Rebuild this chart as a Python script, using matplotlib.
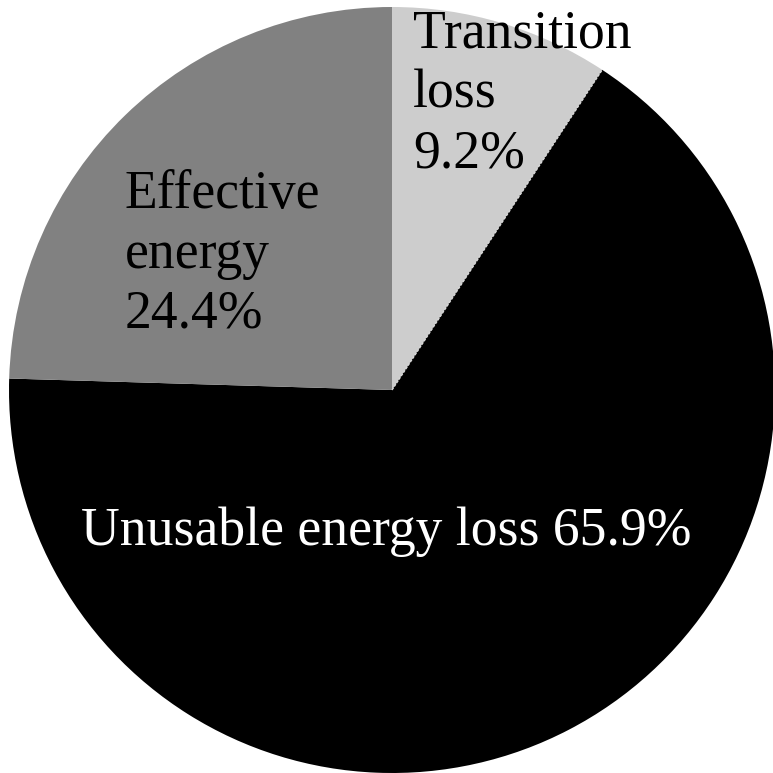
import matplotlib
matplotlib.use("Agg")
import matplotlib.pyplot as plt
import numpy as np

labels = ["Transition\nloss\n9.2%", "Unusable energy loss 65.9%", "Effective\nenergy\n24.4%"]
values = [9.2, 65.9, 24.4]
colors = ["#cdcdcd", "#000000", "#818181"]

W = 773
fig = plt.figure(figsize=(W / 100, W / 100), dpi=100)
ax = fig.add_axes([0, 0, 1, 1])
ax.set_xlim(0, W)
ax.set_ylim(0, W)
ax.set_aspect("equal")
ax.axis("off")

cx, cy, r = 392, W - 390, 383
wedges, _ = ax.pie(values, colors=colors, startangle=90, counterclock=False,
                   center=(cx, cy), radius=r, frame=True,
                   wedgeprops=dict(linewidth=0, antialiased=True))
ax.set_xlim(0, W)
ax.set_ylim(0, W)
ax.axis("off")

# thin light border between transition and unusable slices
th = np.deg2rad(wedges[0].theta1)
ax.plot([cx, cx + r * np.cos(th)], [cy, cy + r * np.sin(th)], color="#d8d8d8",
        lw=1.0, ls=(0, (2, 1)))

font = dict(family="Liberation Serif", fontsize=38.6)
t_lines = labels[0].split("\n")
e_lines = labels[2].split("\n")
for line, base in zip(t_lines, [47, 107, 167]):
    ax.text(413, W - base, line, color="black", ha="left", va="baseline", **font)
for line, base in zip(e_lines, [208, 268, 327]):
    ax.text(125, W - base, line, color="black", ha="left", va="baseline", **font)

ax.text(386, W - 545, labels[1], color="white", ha="center", va="baseline", **font)

fig.savefig("out.png", dpi=100, facecolor="white")
